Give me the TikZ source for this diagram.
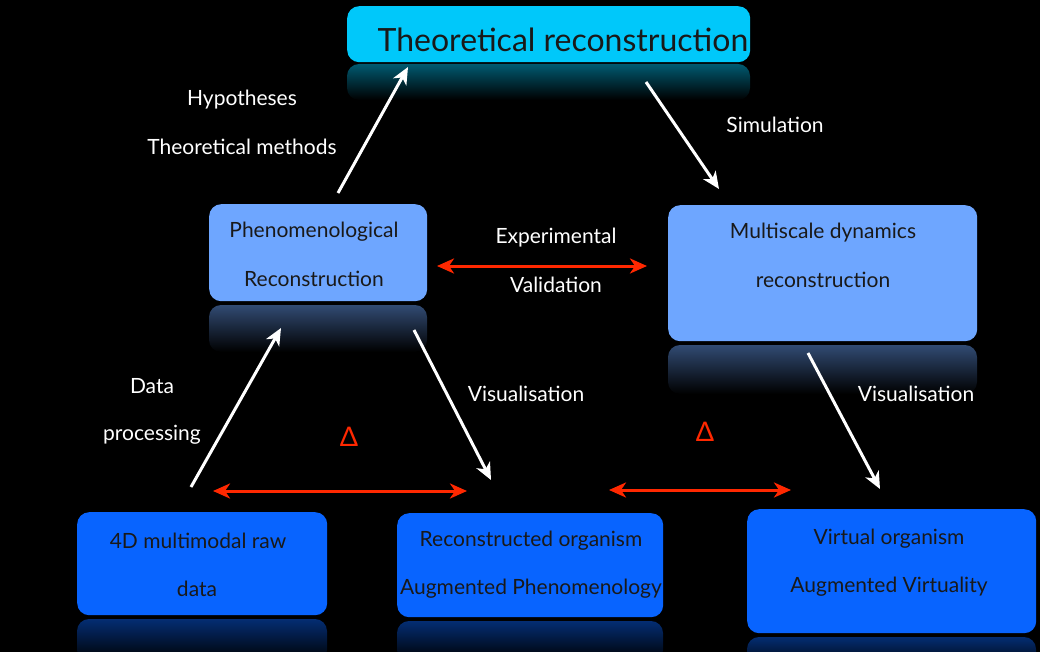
\documentclass[tikz,border=0pt]{standalone}
\usepackage{fontspec}
\setmainfont{Lato}
\usetikzlibrary{arrows.meta}
\definecolor{cyanbox}{RGB}{0,200,250}
\definecolor{lightbox}{RGB}{110,166,255}
\definecolor{bluebox}{RGB}{8,100,255}
\definecolor{redarr}{RGB}{255,40,0}
\tikzset{
  box/.style={rounded corners=12pt, inner sep=0pt, anchor=north west, fill=#1},
  refl/.style={rounded corners=12pt, top color=#1!45!black, middle color=#1!15!black, bottom color=black},
  boxtext/.style={text=black!90, font=\fontsize{21}{24}\selectfont},
  lbl/.style={text=white, font=\fontsize{21}{24}\selectfont},
  warrow/.style={draw=white, line width=3pt, -{Stealth[length=17pt,width=15pt,inset=5pt]}},
  rarrow/.style={draw=redarr, line width=3pt, {Stealth[length=17pt,width=15pt,inset=5pt]}-{Stealth[length=17pt,width=15pt,inset=5pt]}},
  delta/.style={text=redarr, font=\fontsize{27}{30}\selectfont}
}
\begin{document}
\begin{tikzpicture}[x=1pt,y=-1pt]
\fill[black] (0,0) rectangle (1040,652);
\useasboundingbox (0,0) rectangle (1040,652);

% reflections
\shade[refl=cyanbox] (347,64) rectangle (750,100);
\shade[refl=lightbox] (209,305) rectangle (427,352);
\shade[refl=lightbox] (668,345) rectangle (977,394);
\shade[refl=bluebox] (77,619) rectangle (327,662);
\shade[refl=bluebox] (397,621) rectangle (663,662);
\shade[refl=bluebox] (747,637) rectangle (1036,670);

% boxes
\node[box=cyanbox, minimum width=403pt, minimum height=56pt] (theo) at (347,6) {};
\node[box=lightbox, minimum width=218pt, minimum height=97pt] (phen) at (209,204) {};
\node[box=lightbox, minimum width=309pt, minimum height=136pt] (multi) at (668,205) {};
\node[box=bluebox, minimum width=250pt, minimum height=103pt] (raw) at (77,512) {};
\node[box=bluebox, minimum width=266pt, minimum height=104pt] (recon) at (397,513) {};
\node[box=bluebox, minimum width=289pt, minimum height=124pt] (virt) at (747,509) {};

% box texts
\node[text=black!90, font=\fontsize{32}{36}\selectfont] (theot) at (563,40) {Theoretical reconstruction};
\node[boxtext] (phen1) at (314,232) {Phenomenological};
\node[boxtext] (phen2) at (314,279) {Reconstruction};
\node[boxtext] (multi1) at (823,233) {Multiscale dynamics};
\node[boxtext] (multi2) at (823,280) {reconstruction};
\node[boxtext] (raw1) at (198,541) {4D multimodal raw};
\node[boxtext] (raw2) at (197,589) {data};
\node[boxtext] (recon1) at (531,541) {Reconstructed organism};
\node[boxtext] (recon2) at (531,589) {Augmented Phenomenology};
\node[boxtext] (virt1) at (889,539) {Virtual organism};
\node[boxtext] (virt2) at (889,587) {Augmented Virtuality};

% labels
\node[lbl] (hyp) at (242,100) {Hypotheses};
\node[lbl] (meth) at (242,147) {Theoretical methods};
\node[lbl] (sim) at (775,125) {Simulation};
\node[lbl] (exp) at (556,238) {Experimental};
\node[lbl] (val) at (556,285) {Validation};
\node[lbl] (data) at (152,386) {Data};
\node[lbl] (proc) at (152,435) {processing};
\node[lbl] (vis1) at (526,394) {Visualisation};
\node[lbl] (vis2) at (916,394) {Visualisation};
\node[delta] (d1) at (349,437) {Δ};
\node[delta] (d2) at (705,432) {Δ};

% arrow endpoints
\coordinate (a1s) at (338,193); \coordinate (a1e) at (408,67);
\coordinate (a2s) at (646,82);  \coordinate (a2e) at (719,189);
\coordinate (a3s) at (191,487); \coordinate (a3e) at (281,328);
\coordinate (a4s) at (414,330); \coordinate (a4e) at (491,480);
\coordinate (a5s) at (808,353); \coordinate (a5e) at (880,489);
\coordinate (r1s) at (437,266); \coordinate (r1e) at (647,266);
\coordinate (r2s) at (213,491); \coordinate (r2e) at (467,491);
\coordinate (r3s) at (609,490); \coordinate (r3e) at (791,490);

\draw[warrow] (a1s) -- (a1e);
\draw[warrow] (a2s) -- (a2e);
\draw[warrow] (a3s) -- (a3e);
\draw[warrow] (a4s) -- (a4e);
\draw[warrow] (a5s) -- (a5e);
\draw[rarrow] (r1s) -- (r1e);
\draw[rarrow] (r2s) -- (r2e);
\draw[rarrow] (r3s) -- (r3e);
\end{tikzpicture}
\end{document}
